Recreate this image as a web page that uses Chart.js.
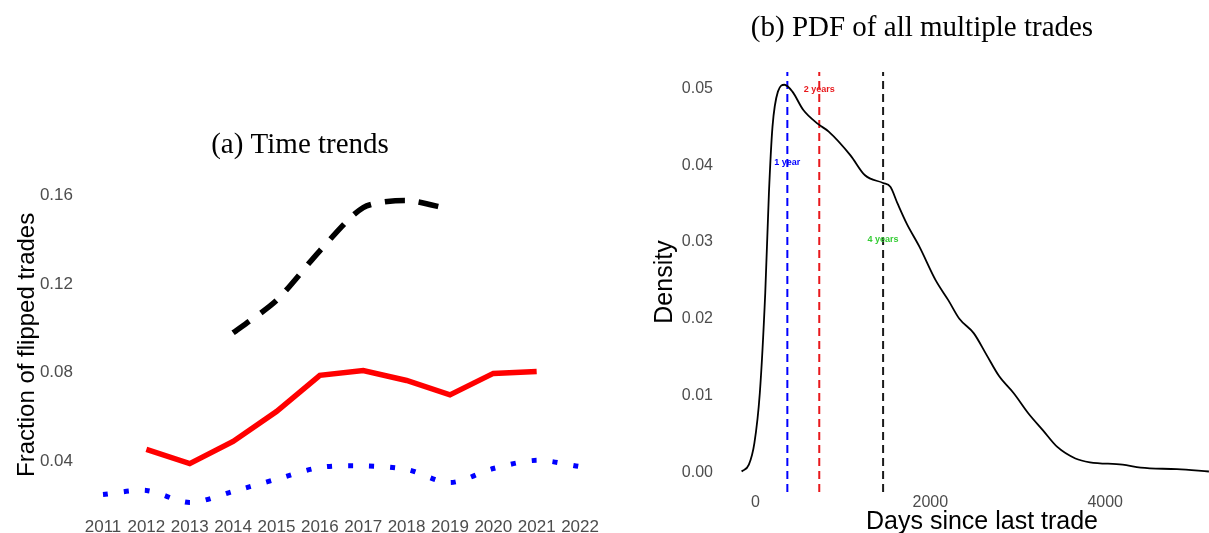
<!DOCTYPE html>
<html><head><meta charset="utf-8">
<script src="https://cdn.jsdelivr.net/npm/chart.js@4"></script>
<style>
html,body{margin:0;padding:0;background:#fff;overflow:hidden;width:1209px;height:533px;position:relative;}
#wa{position:absolute;left:0;top:0;width:622px;height:533px;}
#wb{position:absolute;left:605px;top:0;width:692px;height:533px;}
</style></head><body>
<div id="wa"><canvas id="ca"></canvas></div>
<div id="wb"><canvas id="cb"></canvas></div>
<script>
// ---- Panel (a) data ----
const years = [2011,2012,2013,2014,2015,2016,2017,2018,2019,2020,2021,2022];
const seriesBlack = [null,null,null,0.098,0.1126,0.135,0.1545,0.1577,0.1537,null,null,null];
const seriesRed = [null,0.0454,0.039,0.049,0.0625,0.0788,0.081,0.0765,0.070,0.0797,0.0806,null];
const seriesBlue = [0.0251,0.0269,0.0215,0.0265,0.032,0.0373,0.038,0.0364,0.0305,0.0368,0.0405,0.0377];
const aYTicks = [0.04,0.08,0.12,0.16];

// ---- Panel (b) data ----
const densityDays = [-158,-75,-12,50,112,154,195,257,332,423,548,714,838,1087,1253,1460,1543,1626,1730,1875,2062,2207,2332,2498,2643,2788,2954,3120,3286,3452,3659,3825,4199,4406,4821,5186];
const densityValues = [0.0001,0.001,0.0038,0.0103,0.0233,0.0363,0.045,0.0496,0.0505,0.0496,0.0472,0.0454,0.0444,0.0413,0.0387,0.0377,0.0372,0.035,0.0324,0.0294,0.025,0.0224,0.0200,0.0181,0.0153,0.0125,0.0103,0.0077,0.0055,0.0033,0.0018,0.0013,0.001,0.0006,0.0004,0.0001];
const bXTicks = [0,2000,4000];
const bYTicks = [0,0.01,0.02,0.03,0.04,0.05];
const markerDays = [365,730,1460];
const markerLabels = ['1 year','2 years','4 years'];
const markerLabelY = [0.0403,0.0499,0.0303];

const markerLineColors = ['#0000ff','#e8181c','#1a1a1a'];
const markerTextColors = ['#0000ff','#e8181c','#33cc33'];

const tickColor = '#4d4d4d';
const sans = '"Liberation Sans", Arial, sans-serif';
const serif = '"Liberation Serif", "Times New Roman", serif';

function pts(xs, ys){ return xs.map((x,i)=>({x:x, y:ys[i]})); }
function setTicks(arr){ return s=>{ s.ticks = arr.map(v=>({value:v})); }; }

// ---------- Chart (a) ----------
const aYMin = 0.0181, aYMax = 0.167;
new Chart(document.getElementById('ca'), {
  type: 'line',
  data: {
    datasets: [
      {data: pts(years, seriesBlack), borderColor:'#000', borderWidth:5.5, borderDash:[20,14], borderCapStyle:'butt', pointRadius:0, tension:0.25, spanGaps:false, fill:false},
      {data: pts(years, seriesRed), borderColor:'#ff0000', borderWidth:5.5, pointRadius:0, tension:0, spanGaps:false, fill:false},
      {data: pts(years, seriesBlue), borderColor:'#0000ff', borderWidth:5, borderDash:[5,16], borderCapStyle:'butt', pointRadius:0, tension:0.3, spanGaps:false, fill:false}
    ]
  },
  options: {
    responsive:true, maintainAspectRatio:false, animation:false,
    layout:{padding:{left:0,right:22,top:0,bottom:0}},
    plugins:{
      legend:{display:false}, tooltip:{enabled:false},
      title:{display:true, text:'(a) Time trends', color:'#000', font:{family:serif,size:29,weight:'normal'}, padding:{top:128,bottom:17}}
    },
    scales:{
      x:{type:'linear', min:2010.585, max:2022.46,
        grid:{display:false, drawTicks:false}, border:{display:false},
        afterBuildTicks:setTicks(years),
        ticks:{autoSkip:false, maxRotation:0, color:tickColor, font:{family:sans,size:17}, padding:7, callback:v=>String(v)},
        afterFit:s=>{s.height=23;}
      },
      y:{min:aYMin, max:aYMax,
        grid:{display:false, drawTicks:false}, border:{display:false},
        afterBuildTicks:setTicks(aYTicks),
        ticks:{color:tickColor, font:{family:sans,size:17}, padding:12, callback:v=>Number(v).toFixed(2)},
        title:{display:true, text:'Fraction of flipped trades', color:'#000', font:{family:sans,size:24}, padding:{top:12.6,bottom:0}},
        afterFit:s=>{s.width=85;}
      }
    }
  }
});

// ---------- Chart (b) ----------
const bYMin = -0.00257, bYMax = 0.05216;
const markerText = {
  id:'markerText',
  afterDatasetsDraw(chart){
    const {ctx, scales:{x,y}} = chart;
    ctx.save();
    ctx.font = 'bold 9px ' + sans;
    ctx.textAlign='center'; ctx.textBaseline='middle';
    markerDays.forEach((d,i)=>{
      ctx.fillStyle = markerTextColors[i];
      ctx.fillText(markerLabels[i], x.getPixelForValue(d), y.getPixelForValue(markerLabelY[i]));
    });
    ctx.restore();
  }
};
const bDatasets = [
  {data: pts(densityDays, densityValues), borderColor:'#000', borderWidth:1.8, pointRadius:0, cubicInterpolationMode:'monotone', fill:false}
];
markerDays.forEach((d,i)=>{
  bDatasets.push({data:[{x:d,y:bYMin},{x:d,y:bYMax}], borderColor:markerLineColors[i], borderWidth:2, borderDash:[8,5], borderCapStyle:'butt', pointRadius:0, fill:false});
});
new Chart(document.getElementById('cb'), {
  type:'line',
  data:{datasets:bDatasets},
  plugins:[markerText],
  options:{
    responsive:true, maintainAspectRatio:false, animation:false,
    layout:{padding:{left:0,right:58,top:0,bottom:0}},
    plugins:{
      legend:{display:false}, tooltip:{enabled:false},
      title:{display:true, text:'(b) PDF of all multiple trades', color:'#000', font:{family:serif,size:29,weight:'normal'}, padding:{top:10.6,bottom:26.6}}
    },
    scales:{
      x:{type:'linear', min:-348, max:5530,
        grid:{display:false, drawTicks:false}, border:{display:false},
        afterBuildTicks:setTicks(bXTicks),
        ticks:{autoSkip:false, maxRotation:0, color:tickColor, font:{family:sans,size:16}, padding:1, callback:v=>String(v)},
        title:{display:true, text:'Days since last trade', color:'#000', font:{family:sans,size:25,lineHeight:0.88}, padding:{top:0,bottom:0}},
        afterFit:s=>{s.height=41;}
      },
      y:{min:bYMin, max:bYMax,
        grid:{display:false, drawTicks:false}, border:{display:false},
        afterBuildTicks:setTicks(bYTicks),
        ticks:{color:tickColor, font:{family:sans,size:16}, padding:12, callback:v=>Number(v).toFixed(2)},
        title:{display:true, text:'Density', color:'#000', font:{family:sans,size:25}, padding:{top:45,bottom:0}},
        afterFit:s=>{s.width=120;}
      }
    }
  }
});
</script>
</body></html>
